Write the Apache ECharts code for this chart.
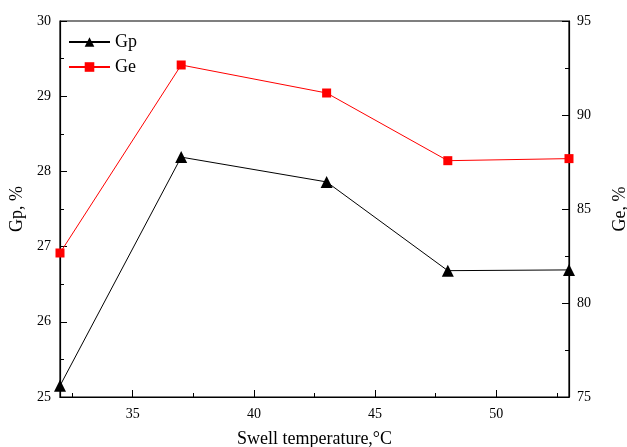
<!DOCTYPE html>
<html>
<head>
<meta charset="utf-8">
<script src="https://cdn.jsdelivr.net/npm/echarts@6/dist/echarts.min.js"></script>
<style>html,body{margin:0;padding:0;background:#fff}#c{width:627px;height:447px}</style>
</head>
<body>
<div id="c"></div>
<script>
const temperatures = [32, 37, 43, 48, 53];
const gpValues = [25.15, 28.19, 27.86, 26.68, 26.69];
const geValues = [82.66, 92.66, 91.17, 87.57, 87.68];
const xMajorTicks = [35, 40, 45, 50];
const xMinorTicks = [32.5, 37.5, 42.5, 47.5, 52.5];

const font = 'Liberation Serif';
const chart = echarts.init(document.getElementById('c'));
const pairs = (vals) => temperatures.map((t, i) => [t, vals[i]]);

chart.setOption({
  animation: false,
  backgroundColor: '#fff',
  grid: { left: 60, right: 58, top: 21, bottom: 50, outerBoundsMode: 'none', containLabel: false, show: true, borderColor: '#000', borderWidth: 1.2, backgroundColor: 'transparent' },
  legend: {
    left: 68, top: 33, padding: 0, orient: 'vertical', itemWidth: 41, itemHeight: 12, itemGap: 7,
    textStyle: { fontFamily: font, fontSize: 18, color: '#000' },
    data: ['Gp', 'Ge']
  },
  xAxis: [{
    type: 'value', min: 32, max: 53, position: 'bottom',
    axisLine: { lineStyle: { color: '#000', width: 1.2 } },
    axisTick: { inside: true, length: 7, customValues: xMajorTicks, lineStyle: { color: '#000' } },
    axisLabel: { customValues: xMajorTicks, fontFamily: font, fontSize: 14, color: '#000', margin: 10 },
    splitLine: { show: false },
    name: 'Swell temperature,°C', nameLocation: 'middle', nameGap: 33,
    nameTextStyle: { fontFamily: font, fontSize: 18, color: '#000' }
  }, {
    type: 'value', min: 32, max: 53, position: 'bottom',
    axisLine: { show: false },
    axisTick: { inside: true, length: 4, customValues: xMinorTicks, lineStyle: { color: '#000' } },
    axisLabel: { show: false },
    splitLine: { show: false }
  }],
  yAxis: [{
    type: 'value', min: 25, max: 30, interval: 1, position: 'left',
    axisLine: { show: true, lineStyle: { color: '#000', width: 1.2 } },
    axisTick: { show: true, inside: true, length: 7, lineStyle: { color: '#000' } },
    minorTick: { show: true, splitNumber: 2, length: 4, lineStyle: { color: '#000' } },
    axisLabel: { fontFamily: font, fontSize: 14, color: '#000', margin: 9 },
    splitLine: { show: false },
    name: 'Gp, %', nameLocation: 'middle', nameGap: 32, nameRotate: 90,
    nameTextStyle: { fontFamily: font, fontSize: 18, color: '#000' }
  }, {
    type: 'value', min: 75, max: 95, interval: 5, position: 'right',
    axisLine: { show: true, lineStyle: { color: '#000', width: 1.2 } },
    axisTick: { show: true, inside: true, length: 7, lineStyle: { color: '#000' } },
    minorTick: { show: true, splitNumber: 2, length: 4, lineStyle: { color: '#000' } },
    axisLabel: { fontFamily: font, fontSize: 14, color: '#000', margin: 8 },
    splitLine: { show: false },
    name: 'Ge, %', nameLocation: 'middle', nameGap: 42, nameRotate: 90,
    nameTextStyle: { fontFamily: font, fontSize: 18, color: '#000' }
  }],
  series: [{
    name: 'Gp', type: 'line', xAxisIndex: 0, yAxisIndex: 0,
    data: pairs(gpValues),
    symbol: 'triangle', symbolSize: 12,
    itemStyle: { color: '#000' },
    lineStyle: { color: '#000', width: 1 }
  }, {
    name: 'Ge', type: 'line', xAxisIndex: 0, yAxisIndex: 1,
    data: pairs(geValues),
    symbol: 'rect', symbolSize: 9,
    itemStyle: { color: '#ff0000' },
    lineStyle: { color: '#ff0000', width: 1 }
  }]
});
</script>
</body>
</html>
